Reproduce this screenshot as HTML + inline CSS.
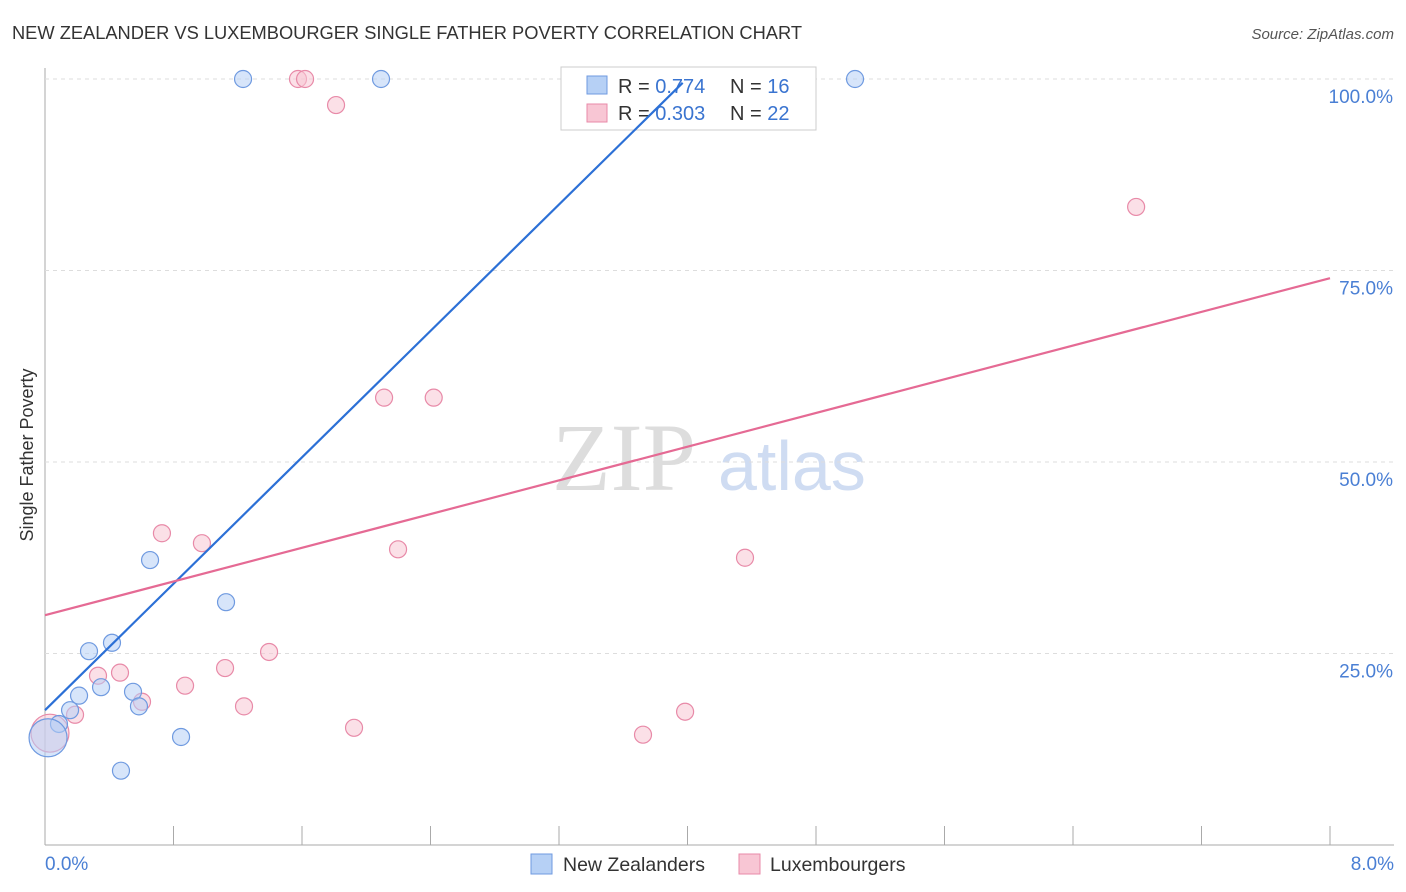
<!DOCTYPE html><html><head><meta charset="utf-8"><style>
body{margin:0;background:#fff;font-family:"Liberation Sans",sans-serif}
</style></head><body>
<svg id="c" width="1406" height="892" style="position:absolute;left:0;top:0">
<text x="12" y="39" font-size="18.3" fill="#333" textLength="790">NEW ZEALANDER VS LUXEMBOURGER SINGLE FATHER POVERTY CORRELATION CHART</text>
<text x="1394" y="39" font-size="15" font-style="italic" fill="#555" text-anchor="end">Source: ZipAtlas.com</text>
<text x="33" y="455" font-size="18" fill="#333" text-anchor="middle" transform="rotate(-90 33 455)">Single Father Poverty</text>
<text x="552" y="490" font-size="96" font-family="Liberation Serif,serif" fill="#ddd">ZIP</text>
<text x="718" y="490" font-size="70" fill="#cfdcf2">atlas</text>
<g id="grid"></g><g id="pts"></g>
<g>
<rect x="561" y="67" width="255" height="63" fill="#fff" stroke="#ccc"/>
<rect x="587" y="76" width="20" height="18" fill="#b6d0f5" stroke="#6f9ae0"/>
<rect x="587" y="104" width="20" height="18" fill="#f8c6d4" stroke="#e88aa8"/>
<text x="618" y="93" font-size="20" fill="#333">R = <tspan fill="#3a74d0">0.774</tspan><tspan x="730">N = </tspan><tspan fill="#3a74d0">16</tspan></text>
<text x="618" y="120" font-size="20" fill="#333">R = <tspan fill="#3a74d0">0.303</tspan><tspan x="730">N = </tspan><tspan fill="#3a74d0">22</tspan></text>
</g>
<g id="lines"></g>
<g>
<rect x="531" y="854" width="21" height="20" fill="#b6d0f5" stroke="#6f9ae0"/>
<text x="563" y="871" font-size="19.5" fill="#333">New Zealanders</text>
<rect x="739" y="854" width="21" height="20" fill="#f8c6d4" stroke="#e88aa8"/>
<text x="770" y="871" font-size="19.5" fill="#333">Luxembourgers</text>
</g>
</svg>
<script>
const xTicks=[0,0.8,1.6,2.4,3.2,4.0,4.8,5.6,6.4,7.2,8.0];
const yTicks=[25,50,75,100];
const blueX=[1.233,2.092,5.043,0.654,1.127,0.417,0.274,0.349,0.548,0.212,0.156,0.585,0.087,0.019,0.847,0.473];
const blueY=[100,100,100,37.2,31.7,26.4,25.3,20.6,20.0,19.5,17.6,18.1,15.8,14.0,14.1,9.7];
const pinkX=[1.575,1.619,1.812,6.793,2.111,2.42,0.728,0.977,2.198,4.358,1.395,0.467,0.33,1.121,0.872,0.604,1.239,0.187,3.985,1.924,3.723,0.031];
const pinkY=[100,100,96.6,83.3,58.4,58.4,40.7,39.4,38.6,37.5,25.2,22.5,22.1,23.1,20.8,18.7,18.1,17.0,17.4,15.3,14.4,14.6];
const blueLine=[0,17.6,3.97,99.5];
const pinkLine=[0,30.0,8,74.0];
const X=v=>45+v/0.8*128.5, Y=v=>845-v/25*191.5;
const NS='http://www.w3.org/2000/svg';
function mk(t,a,p){const e=document.createElementNS(NS,t);for(const k in a)e.setAttribute(k,a[k]);p.appendChild(e);return e;}
const g=document.getElementById('grid'),pts=document.getElementById('pts'),ln=document.getElementById('lines'),svg=document.getElementById('c');
mk('line',{x1:45,y1:68,x2:45,y2:845,stroke:'#aaa'},g);
mk('line',{x1:45,y1:845,x2:1394,y2:845,stroke:'#aaa'},g);
yTicks.forEach(v=>{const l=mk('line',{x1:45,y1:Y(v),x2:1394,y2:Y(v),stroke:'#ddd','stroke-dasharray':'4,4'},g);


const t=mk('text',{x:1393,y:Y(v)+24,'font-size':19,fill:'#4a7fd4','text-anchor':'end'},svg);t.textContent=v.toFixed(1)+'%';

});
xTicks.forEach(v=>{const l=mk('line',{x1:X(v),y1:826,x2:X(v),y2:845,stroke:'#aaa'},g);

});
[[0,'start',45],[8,'end',1394]].forEach(([v,a,x])=>{const t=mk('text',{x:x,y:870,'font-size':19,fill:'#4a7fd4','text-anchor':a},svg);t.textContent=v.toFixed(1)+'%';

});
function dots(xs,ys,f,s,name){xs.forEach((x,i)=>{const big=x<0.05;const c=mk('circle',{cx:X(x),cy:Y(ys[i]),r:big?19:8.5,fill:f,'fill-opacity':0.55,stroke:s,'stroke-width':1.2},pts);

});}
dots(pinkX,pinkY,'#f8c6d4','#e88aa8','luxembourger-point');
dots(blueX,blueY,'#b6d0f5','#6f9ae0','new-zealander-point');
let l1=mk('line',{x1:X(blueLine[0]),y1:Y(blueLine[1]),x2:X(blueLine[2]),y2:Y(blueLine[3]),stroke:'#2c70d6','stroke-width':2.2},ln);


let l2=mk('line',{x1:X(pinkLine[0]),y1:Y(pinkLine[1]),x2:X(pinkLine[2]),y2:Y(pinkLine[3]),stroke:'#e56a94','stroke-width':2.2},ln);


</script></body></html>
